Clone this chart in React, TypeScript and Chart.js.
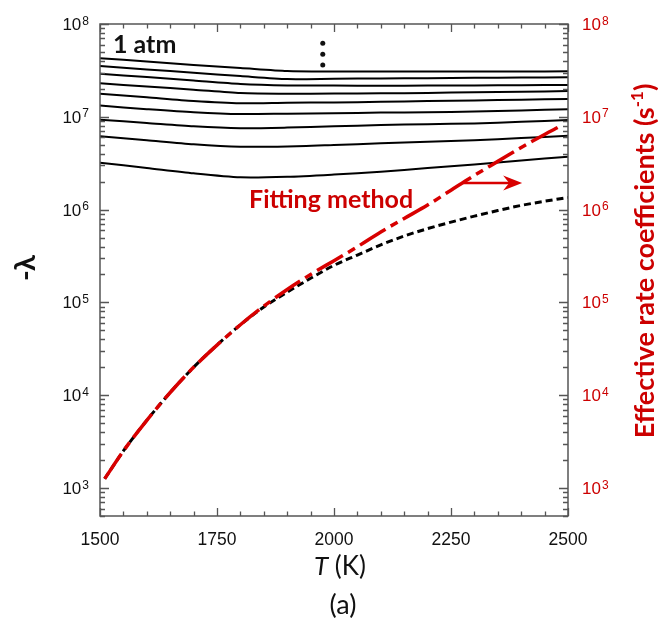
import React, { useEffect, useRef } from 'react';
import { Chart, registerables } from 'chart.js';

Chart.register(...registerables);

// ---- data ----
const T_GRID = [1500, 1600, 1700, 1800, 1900, 2000, 2100, 2200, 2300, 2400, 2500];
const LAMBDA_1 = [4.27e7, 3.95e7, 3.61e7, 3.36e7, 3.12e7, 3.08e7, 3.07e7, 3.07e7, 3.08e7, 3.08e7, 3.09e7];
const LAMBDA_2 = [3.52e7, 3.24e7, 2.98e7, 2.75e7, 2.55e7, 2.57e7, 2.59e7, 2.61e7, 2.63e7, 2.65e7, 2.67e7];
const LAMBDA_3 = [2.91e7, 2.68e7, 2.46e7, 2.26e7, 2.18e7, 2.17e7, 2.16e7, 2.17e7, 2.18e7, 2.19e7, 2.2e7];
const LAMBDA_4 = [2.3e7, 2.12e7, 1.96e7, 1.8e7, 1.77e7, 1.78e7, 1.79e7, 1.81e7, 1.84e7, 1.86e7, 1.9e7];
const LAMBDA_5 = [1.77e7, 1.62e7, 1.48e7, 1.4e7, 1.42e7, 1.43e7, 1.45e7, 1.48e7, 1.5e7, 1.53e7, 1.56e7];
const LAMBDA_6 = [1.32e7, 1.21e7, 1.12e7, 1.07e7, 1.08e7, 1.09e7, 1.11e7, 1.12e7, 1.14e7, 1.17e7, 1.21e7];
const LAMBDA_7 = [9.31e6, 8.58e6, 7.9e6, 7.54e6, 7.65e6, 7.9e6, 8.16e6, 8.32e6, 8.49e6, 8.83e6, 9.24e6];
const LAMBDA_8 = [6.17e6, 5.59e6, 5.06e6, 4.76e6, 4.79e6, 4.97e6, 5.18e6, 5.39e6, 5.6e6, 5.91e6, 6.25e6];
const LAMBDA_9 = [3.2e6, 2.81e6, 2.46e6, 2.23e6, 2.26e6, 2.39e6, 2.56e6, 2.81e6, 3.07e6, 3.38e6, 3.72e6];
const LAMBDA_SERIES = [LAMBDA_1, LAMBDA_2, LAMBDA_3, LAMBDA_4, LAMBDA_5, LAMBDA_6, LAMBDA_7, LAMBDA_8, LAMBDA_9];

const EXACT_T = [1510, 1550, 1600, 1650, 1700, 1750, 1800, 1850, 1900, 1950, 2000, 2050, 2100, 2150, 2200, 2250, 2300, 2350, 2400, 2450, 2500];
const EXACT_K = [1.26e3, 2.51e3, 5.37e3, 1.07e4, 2.0e4, 3.47e4, 5.75e4, 8.91e4, 1.29e5, 1.82e5, 2.51e5, 3.24e5, 4.17e5, 5.19e5, 6.24e5, 7.33e5, 8.51e5, 9.77e5, 1.11e6, 1.23e6, 1.35e6];

const FIT_T = [1510, 1550, 1600, 1650, 1700, 1750, 1800, 1850, 1900, 1950, 2000, 2050, 2100, 2150, 2200, 2250, 2300, 2350, 2400, 2450, 2480];
const FIT_K = [1.26e3, 2.51e3, 5.37e3, 1.07e4, 2.0e4, 3.47e4, 5.75e4, 9.12e4, 1.38e5, 2.0e5, 2.82e5, 3.98e5, 5.75e5, 8.04e5, 1.12e6, 1.62e6, 2.34e6, 3.31e6, 4.68e6, 6.46e6, 7.76e6];

const X_MIN = 1500;
const X_MAX = 2500;
const X_LABELS = [1500, 1750, 2000, 2250, 2500];
const Y_MIN = 500;
const Y_MAX = 1e8;
const Y_EXPONENTS = [3, 4, 5, 6, 7, 8];

// annotation anchors in data units
const ARROW_T = [2276, 2402];
const ARROW_V = 1.94e6;
const DOTS_T = 1976;
const DOTS_V = [6.19e7, 4.71e7, 3.61e7];

const RED = '#d80000';
const RED_TEXT = '#cc0000';
const AXIS = '#555555';
const TICK_FONT = '"Liberation Sans", Arial, sans-serif';
const TITLE_FONT = 'Lato, "Open Sans", sans-serif';

function drawPow(ctx: CanvasRenderingContext2D, exp: string, x: number, y: number, alignRight: boolean, color: string) {
  ctx.fillStyle = color;
  ctx.textBaseline = 'alphabetic';
  ctx.textAlign = 'left';
  ctx.font = `17px ${TICK_FONT}`;
  const wBase = ctx.measureText('10').width;
  ctx.font = `12px ${TICK_FONT}`;
  const wExp = ctx.measureText(exp).width;
  const x0 = alignRight ? x - wBase - wExp - 1 : x;
  ctx.font = `17px ${TICK_FONT}`;
  ctx.fillText('10', x0, y + 6);
  ctx.font = `12px ${TICK_FONT}`;
  ctx.fillText(exp, x0 + wBase + 1, y + 0.5);
}

const overlay = {
  id: 'overlay',
  afterDraw(chart: any) {
    const { ctx, chartArea: a, scales } = chart;
    const xs = scales.x;
    const ys = scales.y;
    ctx.save();

    // frame
    ctx.strokeStyle = AXIS;
    ctx.lineWidth = 1.5;
    ctx.strokeRect(a.left, a.top, a.right - a.left, a.bottom - a.top);

    // x ticks (inside, bottom & top)
    ctx.lineWidth = 1.3;
    for (let v = X_MIN; v <= X_MAX; v += 50) {
      const px = Math.round(xs.getPixelForValue(v)) + 0.5;
      const len = v % 250 === 0 ? 8 : 4.5;
      ctx.beginPath();
      ctx.moveTo(px, a.bottom);
      ctx.lineTo(px, a.bottom - len);
      ctx.moveTo(px, a.top);
      ctx.lineTo(px, a.top + len);
      ctx.stroke();
    }
    // y ticks (inside, left & right)
    for (let d = 2; d <= 8; d++) {
      for (let m = 1; m <= 9; m++) {
        const v = m * Math.pow(10, d);
        if (v < Y_MIN || v > Y_MAX * 1.0001) continue;
        const py = Math.round(ys.getPixelForValue(v)) + 0.5;
        const len = m === 1 ? 9 : 5;
        ctx.beginPath();
        ctx.moveTo(a.left, py);
        ctx.lineTo(a.left + len, py);
        ctx.moveTo(a.right, py);
        ctx.lineTo(a.right - len, py);
        ctx.stroke();
      }
    }

    // x tick labels
    ctx.fillStyle = '#111';
    ctx.font = `17.5px ${TICK_FONT}`;
    ctx.textAlign = 'center';
    ctx.textBaseline = 'alphabetic';
    for (const v of X_LABELS) {
      ctx.fillText(String(v), xs.getPixelForValue(v), a.bottom + 29);
    }
    // y tick labels
    for (const e of Y_EXPONENTS) {
      const py = ys.getPixelForValue(Math.pow(10, e));
      drawPow(ctx, String(e), a.left - 11, py, true, '#111');
      drawPow(ctx, String(e), a.right + 14, py, false, RED_TEXT);
    }

    // x axis title: T (K)
    ctx.textBaseline = 'alphabetic';
    ctx.textAlign = 'left';
    ctx.fillStyle = '#111';
    ctx.font = `italic 26px ${TITLE_FONT}`;
    const wT = ctx.measureText('T').width;
    ctx.font = `26px ${TITLE_FONT}`;
    const wK = ctx.measureText(' (K)').width;
    const cx = (a.left + a.right) / 2 + 6;
    const tx0 = cx - (wT + wK) / 2;
    ctx.font = `italic 26px ${TITLE_FONT}`;
    ctx.fillText('T', tx0, a.bottom + 59);
    ctx.font = `26px ${TITLE_FONT}`;
    ctx.fillText(' (K)', tx0 + wT, a.bottom + 59);

    // caption
    ctx.textAlign = 'center';
    ctx.font = `27px ${TITLE_FONT}`;
    ctx.fillText('(a)', cx + 3, a.bottom + 98);

    // left title: -λ
    ctx.save();
    ctx.translate(26, 268);
    ctx.rotate(-Math.PI / 2);
    ctx.font = `bold 29px ${TITLE_FONT}`;
    ctx.textAlign = 'center';
    ctx.textBaseline = 'middle';
    ctx.fillStyle = '#111';
    ctx.fillText('-λ', 0, 0);
    ctx.restore();

    // right title
    ctx.save();
    ctx.translate(645, 261);
    ctx.rotate(-Math.PI / 2);
    ctx.fillStyle = RED_TEXT;
    ctx.textBaseline = 'middle';
    ctx.textAlign = 'left';
    const main = 'Effective rate coefficients (s';
    const sup = '-1';
    const close = ')';
    ctx.font = `bold 27px ${TITLE_FONT}`;
    const w1 = ctx.measureText(main).width;
    const w3 = ctx.measureText(close).width;
    ctx.font = `bold 17px ${TITLE_FONT}`;
    const w2 = ctx.measureText(sup).width;
    const start = -(w1 + w2 + w3) / 2;
    ctx.font = `bold 27px ${TITLE_FONT}`;
    ctx.fillText(main, start, 0);
    ctx.font = `bold 17px ${TITLE_FONT}`;
    ctx.fillText(sup, start + w1, -7);
    ctx.font = `bold 27px ${TITLE_FONT}`;
    ctx.fillText(close, start + w1 + w2, 0);
    ctx.restore();

    // "1 atm"
    ctx.fillStyle = '#111';
    ctx.textAlign = 'left';
    ctx.textBaseline = 'alphabetic';
    ctx.font = `bold 25px ${TITLE_FONT}`;
    ctx.fillText('1 atm', a.left + 13, a.top + 29);

    // vertical dots
    for (const v of DOTS_V) {
      ctx.beginPath();
      ctx.arc(xs.getPixelForValue(DOTS_T), ys.getPixelForValue(v), 2.5, 0, Math.PI * 2);
      ctx.fill();
    }

    // "Fitting method"
    ctx.fillStyle = RED_TEXT;
    ctx.font = `bold 25px ${TITLE_FONT}`;
    ctx.fillText('Fitting method', a.left + 149, a.top + 184);

    // arrow
    const ax0 = xs.getPixelForValue(ARROW_T[0]);
    const ax1 = xs.getPixelForValue(ARROW_T[1]);
    const ay = ys.getPixelForValue(ARROW_V);
    ctx.strokeStyle = RED;
    ctx.fillStyle = RED;
    ctx.lineWidth = 2.5;
    ctx.beginPath();
    ctx.moveTo(ax0, ay);
    ctx.lineTo(ax1 - 10, ay);
    ctx.stroke();
    ctx.beginPath();
    ctx.moveTo(ax1, ay);
    ctx.lineTo(ax1 - 19, ay - 7.5);
    ctx.lineTo(ax1 - 13, ay);
    ctx.lineTo(ax1 - 19, ay + 7.5);
    ctx.closePath();
    ctx.fill();

    ctx.restore();
  },
};

export default function App() {
  const ref = useRef<HTMLCanvasElement>(null);
  useEffect(() => {
    const lambdaSets = LAMBDA_SERIES.map((s, i) => ({
      label: `lambda ${i + 1}`,
      data: T_GRID.map((t, j) => ({ x: t, y: s[j] })),
      borderColor: '#000',
      borderWidth: 2,
      tension: 0.25,
      pointRadius: 0,
      yAxisID: 'y',
      order: 3,
    }));
    const chart = new Chart(ref.current as HTMLCanvasElement, {
      type: 'line',
      data: {
        datasets: [
          {
            label: 'Fitting method',
            data: FIT_T.map((t, j) => ({ x: t, y: FIT_K[j] })),
            borderColor: RED,
            borderWidth: 3.5,
            borderDash: [30, 6, 8, 6],
            cubicInterpolationMode: 'monotone',
            pointRadius: 0,
            yAxisID: 'y2',
            order: 1,
          },
          {
            label: 'exact',
            data: EXACT_T.map((t, j) => ({ x: t, y: EXACT_K[j] })),
            borderColor: '#000',
            borderWidth: 3,
            borderDash: [7, 4],
            cubicInterpolationMode: 'monotone',
            pointRadius: 0,
            yAxisID: 'y',
            order: 2,
          },
          ...lambdaSets,
        ],
      } as any,
      options: {
        responsive: false,
        animation: false,
        layout: { padding: { top: 24, left: 0, right: 0, bottom: 0 } },
        plugins: { legend: { display: false }, tooltip: { enabled: false } },
        scales: {
          x: {
            type: 'linear',
            min: X_MIN,
            max: X_MAX,
            ticks: { display: false },
            grid: { display: false },
            border: { display: false },
            afterFit: (s: any) => { s.height = 107; },
          },
          y: {
            type: 'logarithmic',
            position: 'left',
            min: Y_MIN,
            max: Y_MAX,
            ticks: { display: false },
            grid: { display: false },
            border: { display: false },
            afterFit: (s: any) => { s.width = 100; },
          },
          y2: {
            type: 'logarithmic',
            position: 'right',
            min: Y_MIN,
            max: Y_MAX,
            ticks: { display: false },
            grid: { display: false },
            border: { display: false },
            afterFit: (s: any) => { s.width = 90; },
          },
        },
      } as any,
      plugins: [overlay],
    });
    return () => chart.destroy();
  }, []);
  return (
    <div style={{ position: 'absolute', left: 0, top: 0, width: 658, height: 623, background: '#fff' }}>
      <canvas ref={ref} width={658} height={623} style={{ display: 'block' }} />
    </div>
  );
}
